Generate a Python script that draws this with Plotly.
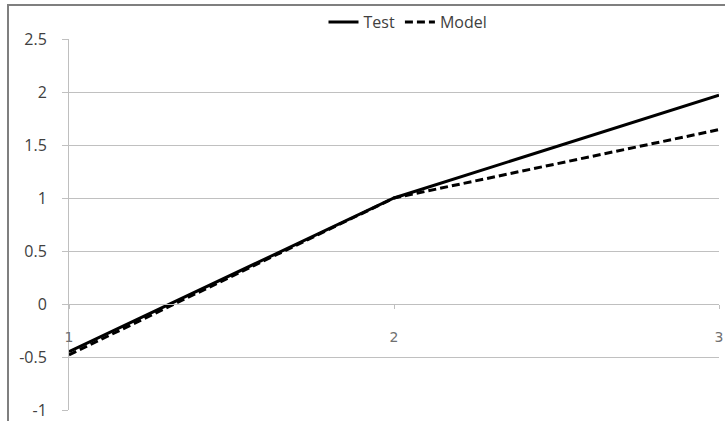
import plotly.graph_objects as go

x_vals = [1, 2, 3]
test_vals = [-0.45, 1.0, 1.97]
model_vals = [-0.48, 1.0, 1.645]
y_ticks = [-1, -0.5, 0, 0.5, 1, 1.5, 2, 2.5]
y_tick_text = ["-1", "-0.5", "0", "0.5", "1", "1.5", "2", "2.5"]
x_ticks = [1, 2, 3]

W, H = 725, 421
L, R, T, B = 69, 6, 39, 11
pw, ph = W - L - R, H - T - B
ymin, ymax = -1, 2.5

fig = go.Figure()
fig.add_trace(go.Scatter(x=x_vals, y=test_vals, mode="lines", name="Test",
                         line=dict(color="black", width=3)))
fig.add_trace(go.Scatter(x=x_vals, y=model_vals, mode="lines", name="Model",
                         line=dict(color="black", width=3, dash="8px,4px")))

font = "'Open Sans', Lato, sans-serif"
fig.update_layout(
    width=W, height=H,
    margin=dict(l=L, r=R, t=T, b=B, pad=0, autoexpand=False),
    paper_bgcolor="white", plot_bgcolor="white",
    font=dict(family=font, size=15, color="#404040"),
    showlegend=True,
    legend=dict(orientation="h", x=(408 - L) / pw, xanchor="center",
                y=1 + (T - 22) / ph, yanchor="middle",
                font=dict(family=font, size=16, color="#404040"),
                bgcolor="rgba(0,0,0,0)", itemwidth=30, tracegroupgap=0),
    xaxis=dict(range=[1, 3], tickvals=x_ticks, ticktext=[str(v) for v in x_ticks],
               showgrid=False, zeroline=False, showline=True, linecolor="#bfbfbf",
               linewidth=1, ticks="outside", ticklen=4, tickcolor="#bfbfbf",
               anchor="free", position=(0 - ymin) / (ymax - ymin),
               ticklabelstandoff=16, automargin=False,
               tickfont=dict(family="'DejaVu Sans', sans-serif", size=14, color="#707070")),
    yaxis=dict(range=[ymin, ymax], tickvals=y_ticks, ticktext=y_tick_text,
               showgrid=True, gridcolor="#c0c0c0", gridwidth=1,
               zeroline=False, showline=True, linecolor="#bfbfbf", linewidth=1,
               ticks="outside", ticklen=6, tickcolor="#c0c0c0",
               ticklabelstandoff=12, automargin=False,
               tickfont=dict(family=font, size=16, color="#404040")),
)

# chart-area frame (Excel style), clipped at the right and bottom edges
x0 = (8 - L) / pw
y_top = 1 + (T - 5) / ph
fig.add_shape(type="rect", xref="paper", yref="paper",
              x0=x0, x1=1.05, y0=-0.2, y1=y_top,
              line=dict(color="#7f7f7f", width=2), fillcolor="rgba(0,0,0,0)",
              layer="above")

fig.write_html("out.html", config={"displayModeBar": False},
               post_script="document.body.style.margin='0';document.body.style.overflow='hidden';")
